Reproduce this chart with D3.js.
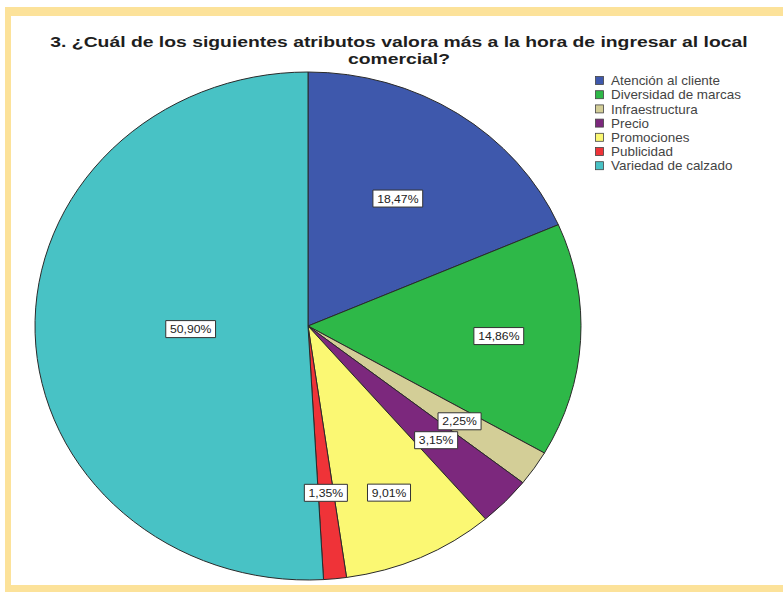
<!DOCTYPE html>
<html>
<head>
<meta charset="utf-8">
<script src="https://cdn.jsdelivr.net/npm/d3@7"></script>
<style>
  html, body { margin: 0; padding: 0; background: #fff; }
  svg { display: block; }
</style>
</head>
<body>
<svg id="chart" width="783" height="592"></svg>
<script>
// Survey answers: most valued attribute when entering the store
const categories = [
  "Atención al cliente",
  "Diversidad de marcas",
  "Infraestructura",
  "Precio",
  "Promociones",
  "Publicidad",
  "Variedad de calzado"
];
const percentages = [18.47, 14.86, 2.25, 3.15, 9.01, 1.35, 50.90];
const labels = ["18,47%", "14,86%", "2,25%", "3,15%", "9,01%", "1,35%", "50,90%"];

const sliceColors = ["#3E58AC", "#2EB848", "#D3CE97", "#7C287D", "#FBF873", "#EF3338", "#48C2C5"];
// radial placement of each value box, as a fraction of the radius
const labelRadius = [0.6, 0.7, 0.67, 0.65, 0.72, 0.66, 0.43];

const titleLines = [
  "3. ¿Cuál de los siguientes atributos valora más a la hora de ingresar al local",
  "comercial?"
];

const W = 783, H = 592;
const svg = d3.select("#chart");
const FONT = "Liberation Sans, Arial, sans-serif";

// yellow frame
svg.append("rect").attr("x", 5).attr("y", 7).attr("width", W).attr("height", H - 7).attr("fill", "#FCE29A");
svg.append("rect").attr("x", 11).attr("y", 16).attr("width", W).attr("height", 585 - 16).attr("fill", "#fff");

// title: both lines share one horizontal stretch so the first spans 698px
const titleTexts = titleLines.map((t, i) =>
  svg.append("text")
    .attr("text-anchor", "middle")
    .attr("font-family", FONT)
    .attr("font-weight", "bold")
    .attr("font-size", 15)
    .attr("fill", "#1e1e1e")
    .text(t)
);
const titleStretch = 698 / titleTexts[0].node().getComputedTextLength();
titleTexts.forEach((t, i) =>
  t.attr("transform", `translate(399,${47 + i * 17}) scale(${titleStretch},1)`)
);

// pie (drawn as a circle and widened into the chart's ellipse)
const cx = 308, cy = 326, ry = 254, rx = 273;
const pie = d3.pie().sort(null).value(d => d)(percentages);
const arc = d3.arc().innerRadius(0).outerRadius(ry);

const g = svg.append("g").attr("transform", `translate(${cx},${cy}) scale(${rx / ry},1)`);
g.selectAll("path")
  .data(pie)
  .join("path")
  .attr("d", arc)
  .attr("fill", (d, i) => sliceColors[i])
  .attr("stroke", "#2a2a2a")
  .attr("stroke-width", 1)
  .attr("vector-effect", "non-scaling-stroke");

// value boxes
const lg = svg.append("g")
  .attr("font-family", FONT)
  .attr("font-size", 11.5);
pie.forEach((d, i) => {
  const a = (d.startAngle + d.endAngle) / 2;
  const f = labelRadius[i];
  const x = cx + Math.sin(a) * f * rx;
  const y = cy - Math.cos(a) * f * ry;
  const grp = lg.append("g").attr("transform", `translate(${x},${y}) scale(1.06,1)`);
  const t = grp.append("text")
    .attr("text-anchor", "middle")
    .attr("dy", "0.36em")
    .attr("fill", "#222")
    .text(labels[i]);
  const w = t.node().getComputedTextLength() + 8;
  grp.insert("rect", "text")
    .attr("x", -w / 2).attr("y", -8.5)
    .attr("width", w).attr("height", 17)
    .attr("fill", "#fff")
    .attr("stroke", "#333")
    .attr("stroke-width", 1)
    .attr("vector-effect", "non-scaling-stroke");
});

// legend
const legend = svg.append("g")
  .attr("font-family", FONT)
  .attr("font-size", 12);
categories.forEach((c, i) => {
  const y = 81 + i * 14.2;
  legend.append("rect")
    .attr("x", 595.5).attr("y", y - 4.5)
    .attr("width", 8).attr("height", 8)
    .attr("fill", sliceColors[i])
    .attr("stroke", "#444").attr("stroke-width", 0.8);
  legend.append("text")
    .attr("transform", `translate(611,${y}) scale(1.12,1)`)
    .attr("dy", "0.35em")
    .attr("fill", "#444")
    .text(c);
});
</script>
</body>
</html>
